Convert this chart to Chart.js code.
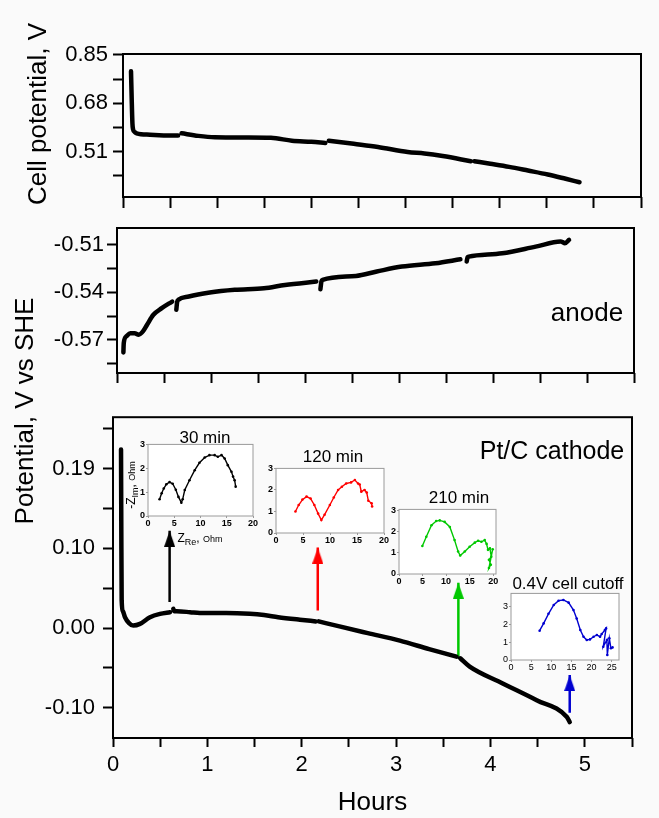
<!DOCTYPE html>
<html>
<head>
<meta charset="utf-8">
<script src="https://cdn.jsdelivr.net/npm/chart.js@4.4.0/dist/chart.umd.min.js"></script>
<style>
  html, body { margin: 0; padding: 0; background: #fafafa; }
  body { width: 659px; height: 818px; position: relative; overflow: hidden; font-family: 'Liberation Sans', Arial, sans-serif; }
  canvas { position: absolute; }
  .txt { position: absolute; white-space: nowrap; line-height: 1; color: #000; transform: translate(-50%, -50%); }
  .vert { transform: translate(-50%, -50%) rotate(-90deg); }
  .txt sub { font-size: 9px; vertical-align: -3px; }
</style>
</head>
<body>
<canvas id="cell" width="651" height="183" style="left:0;top:34px"></canvas>
<canvas id="anode" width="644" height="185" style="left:0;top:208px"></canvas>
<canvas id="cathode" width="642" height="422" style="left:0;top:396px"></canvas>
<canvas id="eis1"></canvas>
<canvas id="eis2"></canvas>
<canvas id="eis3"></canvas>
<canvas id="eis4"></canvas>

<div class="txt vert" style="left:37px;top:114px;font-size:26px">Cell potential, V</div>
<div class="txt vert" style="left:24px;top:411px;font-size:26px">Potential, V vs SHE</div>
<div class="txt" style="left:587px;top:312px;font-size:26px">anode</div>
<div class="txt" style="left:552px;top:450px;font-size:25px">Pt/C cathode</div>
<div class="txt" style="left:205px;top:437px;font-size:17px">30 min</div>
<div class="txt" style="left:333px;top:456px;font-size:17px">120 min</div>
<div class="txt" style="left:459px;top:497px;font-size:17px">210 min</div>
<div class="txt" style="left:568px;top:583px;font-size:17px">0.4V cell cutoff</div>
<div class="txt vert" style="left:132px;top:485px;font-size:12px">-Z<sub>Im</sub>, <span style="font-size:9px">Ohm</span></div>
<div class="txt" style="left:200px;top:539px;font-size:12px">Z<sub>Re</sub>, <span style="font-size:9px">Ohm</span></div>

<script>
const FONT = "'Liberation Sans', Arial, sans-serif";
Chart.defaults.font.family = FONT;
Chart.defaults.color = '#000';

// shared time axis (hours)
const hourTicks = [0, 0.5, 1, 1.5, 2, 2.5, 3, 3.5, 4, 4.5, 5, 5.5];
const hourLabels = ['0', '', '1', '', '2', '', '3', '', '4', '', '5', ''];

// top panel: cell potential (null = EIS interruption)
const cellTicks = [0.425, 0.51, 0.595, 0.68, 0.765, 0.85];
const cellLabels = ['', '0.51', '', '0.68', '', '0.85'];
const cellHours = [0.085, 0.092, 0.100, 0.106, 0.125, 0.145, 0.287, 0.57, 0.585, 0.60, 0.622, 0.8, 0.975, 1.3, 1.571, 1.794, 2.0, 2.148, 2.165, 2.185, 2.45, 2.707, 3.023, 3.2, 3.395, 3.693, 3.71, 3.73, 3.9, 4.10, 4.3, 4.51, 4.7, 4.847];
const cellV = [0.792, 0.700, 0.610, 0.589, 0.578, 0.574, 0.569, 0.566, 0.566, null, 0.574, 0.565, 0.560, 0.559, 0.558, 0.548, 0.544, 0.540, null, 0.548, 0.537, 0.526, 0.508, 0.503, 0.494, 0.476, null, 0.476, 0.467, 0.456, 0.443, 0.429, 0.414, 0.402];

// middle panel: anode potential
const anodeTicks = [-0.585, -0.57, -0.555, -0.54, -0.525, -0.51];
const anodeLabels = ['', '-0.57', '', '-0.54', '', '-0.51'];
const anodeHours = [0.068, 0.072, 0.098, 0.142, 0.187, 0.231, 0.276, 0.32, 0.387, 0.476, 0.587, 0.61, 0.631, 0.64, 0.653, 0.764, 0.987, 1.253, 1.564, 1.787, 2.12, 2.14, 2.164, 2.175, 2.187, 2.542, 2.764, 3.031, 3.387, 3.653, 3.69, 3.72, 3.73, 3.742, 4.098, 4.453, 4.72, 4.74, 4.764, 4.809];
const anodeV = [-0.578, -0.572, -0.5679, -0.5658, -0.5658, -0.5668, -0.5647, -0.5605, -0.5542, -0.55, -0.5458, null, -0.551, -0.546, -0.5447, -0.5426, -0.5401, -0.5384, -0.5374, -0.5353, -0.5332, null, -0.538, -0.533, -0.5321, -0.5296, -0.5268, -0.5237, -0.5216, -0.5191, null, -0.5205, -0.5178, -0.5174, -0.5153, -0.5111, -0.5079, -0.5082, -0.509, -0.5068];

// bottom panel: cathode potential
const cathodeTicks = [-0.095, -0.0475, 0, 0.0475, 0.095, 0.1425, 0.19, 0.2375];
const cathodeLabels = ['-0.10', '', '0.00', '', '0.10', '', '0.19', ''];
const cathodeHours = [0.085, 0.088, 0.092, 0.105, 0.127, 0.17, 0.215, 0.286, 0.392, 0.498, 0.604, 0.62, 0.639, 0.65, 0.675, 0.816, 0.92, 1.2, 1.45, 1.6, 1.75, 1.98, 2.15, 2.165, 2.18, 2.4, 2.7, 3.04, 3.35, 3.64, 3.66, 3.68, 3.78, 4.13, 4.49, 4.81, 4.84];
const cathodeV = [0.213, 0.12, 0.033, 0.02, 0.013, 0.006, 0.003, 0.005, 0.013, 0.017, 0.019, null, 0.023, 0.020, 0.020, 0.019, 0.018, 0.018, 0.017, 0.0155, 0.013, 0.010, 0.008, null, 0.008, 0.002, -0.006, -0.015, -0.025, -0.034, null, -0.036, -0.046, -0.066, -0.086, -0.106, -0.112];

// EIS arrows on the cathode panel
const arrowHours = [0.60, 2.17, 3.66, 4.84];
const arrowFrom = [0.031, 0.021, -0.035, -0.101];
const arrowTo = [0.116, 0.096, 0.054, -0.056];
const arrowColors = ['#000000', '#ff0000', '#00c800', '#0000d0'];

// Nyquist insets
const eis30Re = [2.2, 2.6, 3.0, 3.5, 4.1, 4.7, 5.3, 5.8, 6.35, 6.6, 7.0, 7.9, 8.9, 9.8, 10.8, 11.7, 12.7, 13.3, 14.0, 14.6, 15.2, 15.9, 16.2, 16.5, 16.7];
const eis30Im = [0.7, 0.95, 1.15, 1.33, 1.42, 1.35, 1.1, 0.8, 0.56, 0.7, 1.09, 1.5, 1.92, 2.23, 2.45, 2.55, 2.55, 2.48, 2.55, 2.41, 2.13, 1.85, 1.65, 1.5, 1.23];
const eis120Re = [3.6, 4.2, 4.9, 5.66, 6.4, 7.1, 7.8, 8.4, 9.0, 9.97, 10.7, 11.5, 12.2, 13.0, 13.9, 14.6, 15.2, 15.5, 15.8, 16.4, 16.8, 17.1, 17.7, 17.8];
const eis120Im = [1.0, 1.3, 1.55, 1.69, 1.6, 1.3, 0.9, 0.6, 0.85, 1.3, 1.65, 2.0, 2.15, 2.3, 2.35, 2.46, 2.3, 2.25, 1.92, 2.0, 1.88, 1.5, 1.38, 1.23];
const eis210Re = [4.96, 5.8, 6.9, 7.9, 8.65, 9.7, 10.8, 11.8, 12.55, 13.0, 13.97, 15.0, 16.1, 16.8, 17.5, 18.2, 18.6, 18.9, 19.3, 19.6, 19.1, 19.5, 19.1, 19.9];
const eis210Im = [1.32, 1.76, 2.3, 2.5, 2.53, 2.46, 2.22, 1.6, 1.06, 0.87, 1.06, 1.29, 1.48, 1.57, 1.52, 1.6, 1.42, 1.14, 1.21, 0.82, 0.67, 0.44, 0.28, 1.17];
const eisCutRe = [7.1, 8.1, 9.3, 10.6, 11.8, 13.0, 14.3, 15.5, 16.3, 17.2, 18.0, 18.8, 19.6, 20.5, 21.3, 22.1, 22.5, 23.3, 23.6, 22.9, 23.8, 23.9, 24.4, 24.8, 25.2];
const eisCutIm = [1.65, 2.06, 2.6, 3.1, 3.34, 3.38, 3.23, 2.81, 2.34, 1.69, 1.31, 1.13, 1.16, 1.31, 1.41, 1.31, 1.46, 1.69, 1.78, 0.75, 1.13, 0.28, 1.22, 0.66, 0.71];

const pts = (xs, ys) => xs.map((x, i) => ({ x: x, y: ys[i] }));

const framePlugin = {
  id: 'frame',
  beforeDraw(chart, args, opts) {
    if (!opts.fill) return;
    const { ctx, chartArea: a } = chart;
    ctx.save();
    ctx.fillStyle = opts.fill;
    ctx.fillRect(a.left, a.top, a.width, a.height);
    ctx.restore();
  },
  afterDraw(chart, args, opts) {
    const { ctx, chartArea: a } = chart;
    ctx.save();
    ctx.strokeStyle = opts.color || '#000';
    ctx.lineWidth = opts.width || 2;
    ctx.strokeRect(a.left, a.top, a.width, a.height);
    ctx.restore();
  }
};

function hourAxis(showLabels, height, tickLen) {
  return {
    type: 'linear', min: 0, max: 5.5,
    afterBuildTicks: s => { s.ticks = hourTicks.map(v => ({ value: v })); },
    afterFit: s => { s.height = height; },
    border: { display: false },
    grid: { drawOnChartArea: false, drawTicks: true, tickLength: tickLen, tickWidth: 2, tickColor: '#000' },
    ticks: { autoSkip: false, maxRotation: 0, padding: 5, font: { size: 22 },
      callback: (v, i) => showLabels ? hourLabels[i] : '' },
    title: { display: showLabels, text: 'Hours', font: { size: 26 }, padding: { top: 0, bottom: 0 } }
  };
}

function valueAxis(min, max, ticks, labels, width, pad) {
  return {
    type: 'linear', min: min, max: max,
    afterBuildTicks: s => { s.ticks = ticks.map(v => ({ value: v })); },
    afterFit: s => { s.width = width; },
    border: { display: false },
    grid: { drawOnChartArea: false, drawTicks: true, tickLength: 10, tickWidth: 2, tickColor: '#000' },
    ticks: { autoSkip: false, padding: pad, font: { size: 22 }, callback: (v, i) => labels[i] }
  };
}

function trace(xs, ys) {
  return {
    data: pts(xs, ys), showLine: true, borderColor: '#000', borderWidth: 4.5,
    pointRadius: 0, cubicInterpolationMode: 'monotone', borderCapStyle: 'round', borderJoinStyle: 'round'
  };
}

function baseOptions(scales) {
  return {
    responsive: false, animation: false, events: [],
    layout: { padding: { top: 20, right: 10, left: 0, bottom: 0 } },
    plugins: { legend: { display: false }, tooltip: { enabled: false }, frame: { color: '#000', width: 2 } },
    scales: scales
  };
}

new Chart(document.getElementById('cell'), {
  type: 'scatter',
  data: { datasets: [trace(cellHours, cellV)] },
  options: baseOptions({ x: hourAxis(false, 20, 11), y: valueAxis(0.35, 0.853, cellTicks, cellLabels, 123, 5) }),
  plugins: [framePlugin]
});

new Chart(document.getElementById('anode'), {
  type: 'scatter',
  data: { datasets: [trace(anodeHours, anodeV)] },
  options: baseOptions({ x: hourAxis(false, 20, 10), y: valueAxis(-0.591, -0.4993, anodeTicks, anodeLabels, 117, 3) }),
  plugins: [framePlugin]
});

function arrowHead(color) {
  const c = document.createElement('canvas');
  c.width = 11; c.height = 32;
  const g = c.getContext('2d');
  g.fillStyle = color;
  g.beginPath(); g.moveTo(5.5, 16); g.lineTo(11, 32); g.lineTo(0, 32); g.closePath(); g.fill();
  return c;
}

const arrowSets = arrowHours.map((h, i) => ({
  data: [{ x: h, y: arrowFrom[i] }, { x: h, y: arrowTo[i] }],
  showLine: true, borderColor: arrowColors[i], borderWidth: 2.5,
  pointRadius: [0, 3], pointStyle: ['circle', arrowHead(arrowColors[i])]
}));

new Chart(document.getElementById('cathode'), {
  type: 'scatter',
  data: { datasets: [trace(cathodeHours, cathodeV)].concat(arrowSets) },
  options: baseOptions({ x: hourAxis(true, 80, 9), y: valueAxis(-0.131, 0.2514, cathodeTicks, cathodeLabels, 113, 8) }),
  plugins: [framePlugin]
});

// insets: plot-area box in page pixels, then axis ranges
function inset(id, box, xMax, yMax, xs, ys, color, bold) {
  const yw = 18, xh = 14, padT = 6, padR = 8;
  const cv = document.getElementById(id);
  cv.width = (box[2] - box[0]) + yw + padR;
  cv.height = (box[3] - box[1]) + padT + xh;
  cv.style.left = (box[0] - yw) + 'px';
  cv.style.top = (box[1] - padT) + 'px';
  const tickFont = { size: 9, weight: bold ? 'bold' : 'normal' };
  new Chart(cv, {
    type: 'scatter',
    data: { datasets: [{
      data: pts(xs, ys), showLine: true, borderColor: color, backgroundColor: color,
      borderWidth: 1.4, pointRadius: 1.3, pointBorderWidth: 0
    }] },
    options: {
      responsive: false, animation: false, events: [],
      layout: { padding: { top: padT, right: padR, left: 0, bottom: 0 } },
      plugins: { legend: { display: false }, tooltip: { enabled: false }, frame: { color: '#9a9a9a', width: 1, fill: '#ffffff' } },
      scales: {
        x: { type: 'linear', min: 0, max: xMax, afterFit: s => { s.height = xh; },
          border: { display: false },
          grid: { drawOnChartArea: false, tickLength: 2, tickColor: '#9a9a9a' },
          ticks: { stepSize: 5, includeBounds: false, padding: 0, maxRotation: 0, font: tickFont } },
        y: { type: 'linear', min: 0, max: yMax, afterFit: s => { s.width = yw; },
          border: { display: false },
          grid: { drawOnChartArea: false, tickLength: 2, tickColor: '#9a9a9a' },
          ticks: { stepSize: 1, includeBounds: false, padding: 1, font: tickFont } }
      }
    },
    plugins: [framePlugin]
  });
}

inset('eis1', [148, 444, 253, 516], 20, 3, eis30Re, eis30Im, '#000000', true);
inset('eis2', [276, 468, 384, 533], 20, 3, eis120Re, eis120Im, '#ff0000', true);
inset('eis3', [399, 509, 496, 574], 20.6, 3.05, eis210Re, eis210Im, '#00c800', true);
inset('eis4', [511, 593, 619, 660], 26.8, 3.75, eisCutRe, eisCutIm, '#0000d0', false);
</script>
</body>
</html>
